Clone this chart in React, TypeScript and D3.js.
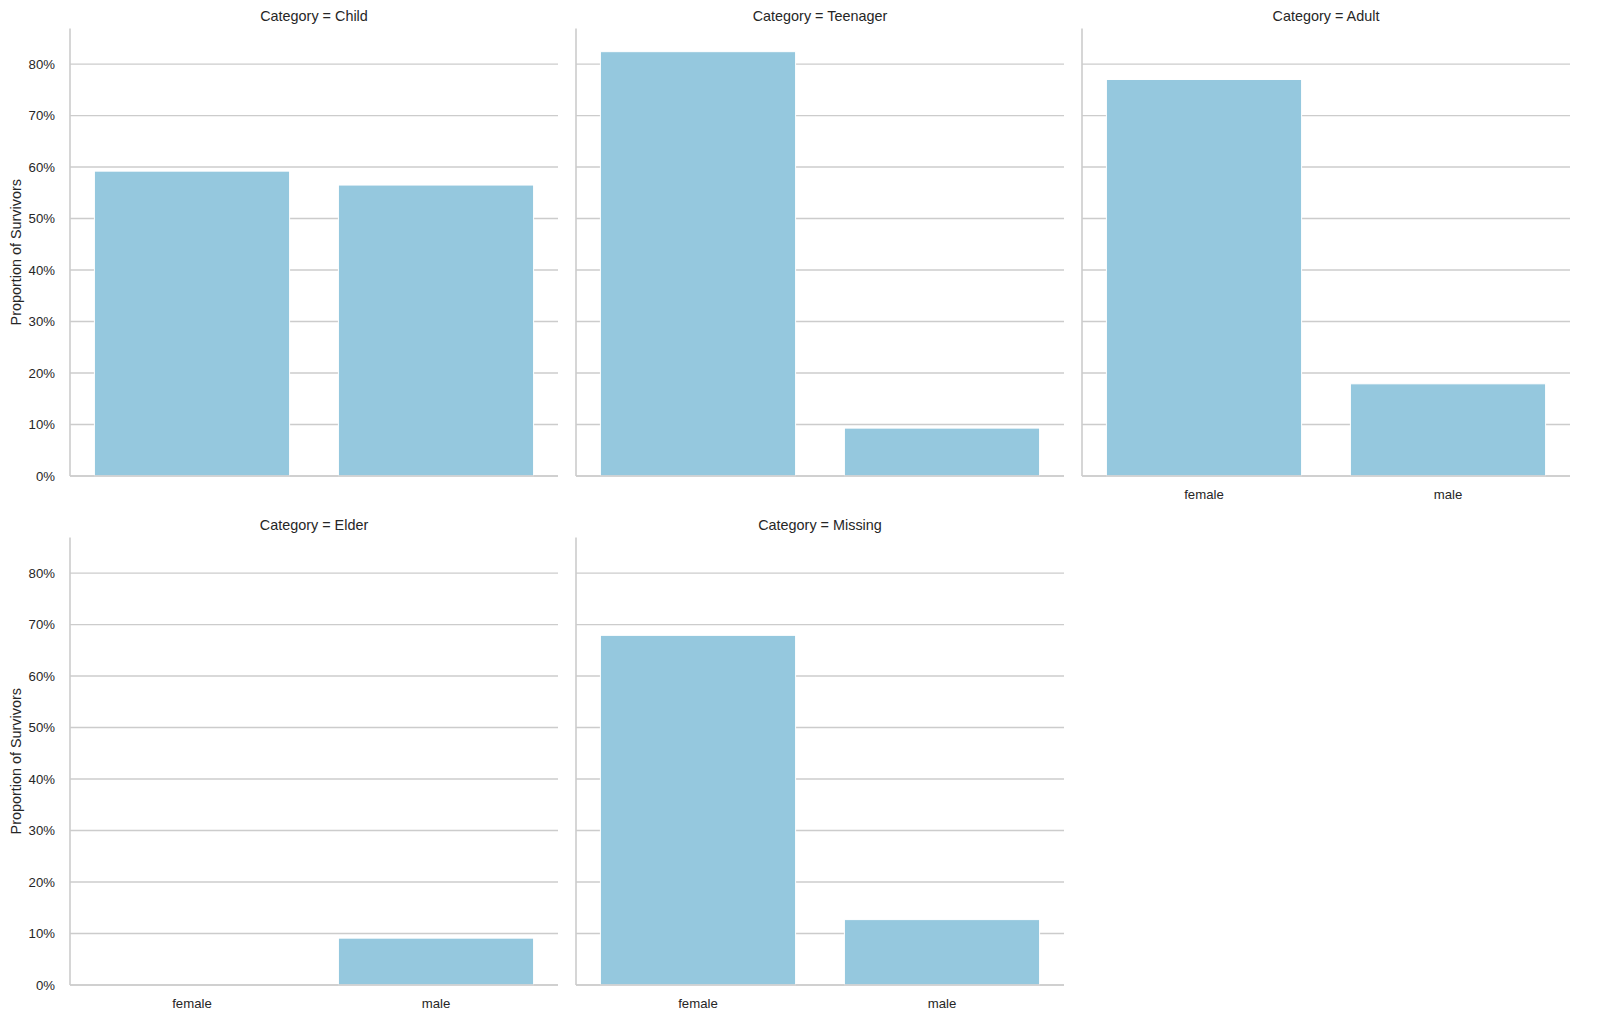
import React from "react";
import * as d3 from "d3";

const categories = ["Child", "Teenager", "Adult", "Elder", "Missing"];
const sexes = ["female", "male"];
const femaleRate = [0.592, 0.824, 0.770, 0.0, 0.679];
const maleRate = [0.565, 0.093, 0.179, 0.091, 0.127];
const yTicks = [0, 0.1, 0.2, 0.3, 0.4, 0.5, 0.6, 0.7, 0.8];

const W = 1600;
const H = 1022;
const panelW = 488;
const panelH = 447.5;
const colX = [70, 576, 1082];
const rowY = [28.5, 537.5];
const yMax = 0.869;
const barColor = "#95c8de";
const gridColor = "#cccccc";
const textColor = "#262626";
const font = "'Liberation Sans', Arial, 'DejaVu Sans', sans-serif";

export default function App() {
  const x = d3.scaleBand<string>().domain(sexes).range([0, panelW]).paddingInner(0.2).paddingOuter(0.1);
  const y = d3.scaleLinear().domain([0, yMax]).range([panelH, 0]);
  const fmt = d3.format(".0%");

  const panels = categories.map((cat, i) => {
    const col = i % 3;
    const row = Math.floor(i / 3);
    const values = [femaleRate[i], maleRate[i]];
    const showX = row === 1 || i + 3 >= categories.length;
    return (
      <g key={cat} transform={`translate(${colX[col]},${rowY[row]})`}>
        <text x={panelW / 2} y={-8} textAnchor="middle" fontSize={14.4} fill={textColor} fontFamily={font}>
          {`Category = ${cat}`}
        </text>
        {yTicks.map((t) => (
          <line key={t} x1={0} x2={panelW} y1={y(t)} y2={y(t)} stroke={gridColor} strokeWidth={1.3} />
        ))}
        {values.map((v, j) => (
          <rect
            key={sexes[j]}
            x={x(sexes[j])!}
            y={y(v)}
            width={x.bandwidth()}
            height={panelH - y(v)}
            fill={barColor}
            stroke="#ffffff"
            strokeWidth={v > 0 ? 1 : 0}
          />
        ))}
        <line x1={0} x2={0} y1={0} y2={panelH} stroke={gridColor} strokeWidth={1.6} />
        <line x1={0} x2={panelW} y1={panelH} y2={panelH} stroke={gridColor} strokeWidth={1.6} />
        {col === 0 &&
          yTicks.map((t) => (
            <text key={t} x={-15} y={y(t)} dy="0.35em" textAnchor="end" fontSize={13.2} fill={textColor} fontFamily={font}>
              {fmt(t)}
            </text>
          ))}
        {col === 0 && (
          <text
            transform={`translate(${16 - colX[0]},${panelH / 2}) rotate(-90)`}
            textAnchor="middle"
            dy="0.35em"
            fontSize={14.4}
            fill={textColor}
            fontFamily={font}
          >
            Proportion of Survivors
          </text>
        )}
        {showX &&
          sexes.map((s) => (
            <text key={s} x={x(s)! + x.bandwidth() / 2} y={panelH + 23} textAnchor="middle" fontSize={13.2} fill={textColor} fontFamily={font}>
              {s}
            </text>
          ))}
      </g>
    );
  });

  return (
    <svg width={W} height={H} style={{ position: "absolute", left: 0, top: 0, background: "#ffffff" }}>
      <rect width={W} height={H} fill="#ffffff" />
      {panels}
    </svg>
  );
}
